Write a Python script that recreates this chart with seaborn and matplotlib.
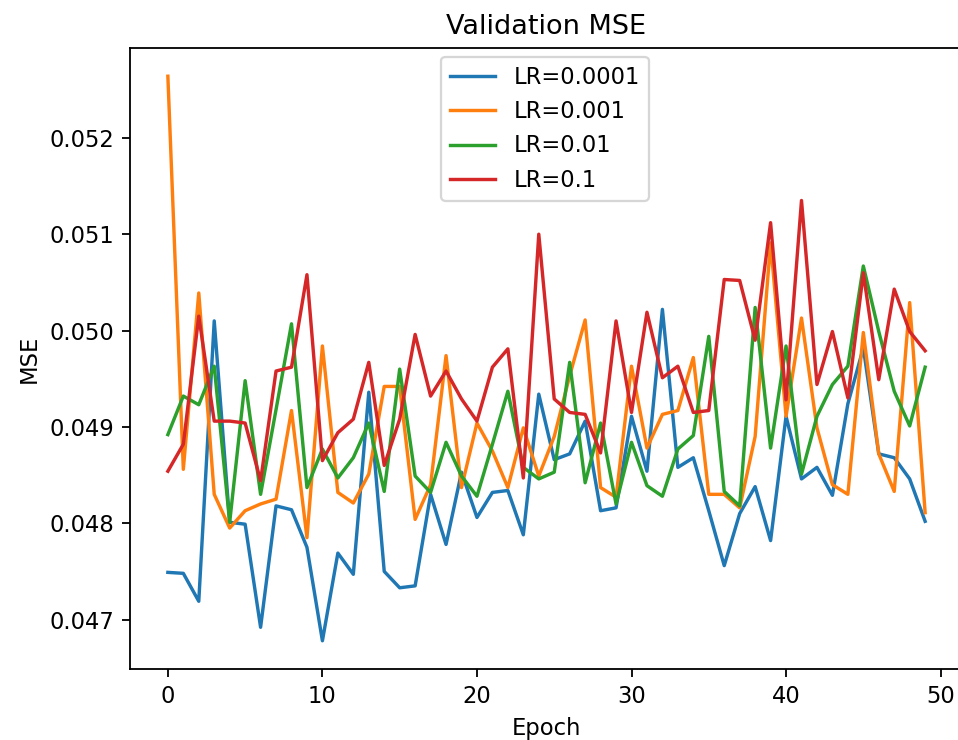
import pandas as pd
import seaborn as sns
import matplotlib.pyplot as plt
import numpy as np

epochs = list(range(50))

# validation MSE per epoch
mse_lr_0001 = [0.04749, 0.04748, 0.04719, 0.05010, 0.04801, 0.04799, 0.04692, 0.04818, 0.04814, 0.04775,
               0.04678, 0.04769, 0.04747, 0.04936, 0.04750, 0.04733, 0.04735, 0.04830, 0.04778, 0.04853,
               0.04806, 0.04832, 0.04834, 0.04788, 0.04934, 0.04866, 0.04872, 0.04906, 0.04813, 0.04816,
               0.04911, 0.04854, 0.05022, 0.04858, 0.04868, 0.04813, 0.04756, 0.04810, 0.04838, 0.04782,
               0.04911, 0.04846, 0.04858, 0.04829, 0.04924, 0.04982, 0.04872, 0.04868, 0.04846, 0.04802]
mse_lr_001 = [0.05264, 0.04856, 0.05039, 0.04830, 0.04795, 0.04813, 0.04820, 0.04825, 0.04917, 0.04785,
              0.04984, 0.04832, 0.04821, 0.04851, 0.04942, 0.04942, 0.04804, 0.04840, 0.04974, 0.04837,
              0.04904, 0.04875, 0.04837, 0.04899, 0.04849, 0.04890, 0.04953, 0.05011, 0.04837, 0.04827,
              0.04963, 0.04878, 0.04913, 0.04917, 0.04972, 0.04830, 0.04830, 0.04816, 0.04890, 0.05091,
              0.04911, 0.05013, 0.04899, 0.04840, 0.04830, 0.04998, 0.04872, 0.04833, 0.05029, 0.04811]
mse_lr_01 = [0.04892, 0.04932, 0.04923, 0.04963, 0.04801, 0.04948, 0.04830, 0.04918, 0.05007, 0.04837,
             0.04877, 0.04847, 0.04868, 0.04904, 0.04833, 0.04960, 0.04849, 0.04832, 0.04884, 0.04849,
             0.04828, 0.04882, 0.04937, 0.04858, 0.04846, 0.04853, 0.04967, 0.04842, 0.04904, 0.04820,
             0.04884, 0.04839, 0.04828, 0.04877, 0.04891, 0.04994, 0.04833, 0.04818, 0.05024, 0.04878,
             0.04984, 0.04851, 0.04911, 0.04944, 0.04963, 0.05067, 0.04999, 0.04937, 0.04901, 0.04962]
mse_lr_1 = [0.04854, 0.04882, 0.05015, 0.04906, 0.04906, 0.04904, 0.04844, 0.04958, 0.04962, 0.05058,
            0.04865, 0.04894, 0.04908, 0.04967, 0.04860, 0.04908, 0.04996, 0.04932, 0.04958, 0.04929,
            0.04906, 0.04962, 0.04981, 0.04847, 0.05100, 0.04929, 0.04915, 0.04913, 0.04873, 0.05010,
            0.04915, 0.05019, 0.04951, 0.04963, 0.04915, 0.04917, 0.05053, 0.05052, 0.04990, 0.05112,
            0.04928, 0.05135, 0.04944, 0.04999, 0.04930, 0.05060, 0.04949, 0.05043, 0.04999, 0.04979]

labels = ["LR=0.0001", "LR=0.001", "LR=0.01", "LR=0.1"]
series = [mse_lr_0001, mse_lr_001, mse_lr_01, mse_lr_1]

df = pd.DataFrame({
    "Epoch": epochs * 4,
    "MSE": np.concatenate(series),
    "lr": np.repeat(labels, len(epochs)),
})

dpi = 163
fig = plt.figure(figsize=(958 / dpi, 740 / dpi), dpi=dpi)
# the reference is cropped a little on the right, so the axes run past the edge
ax = fig.add_axes([130 / 958, 1 - 669 / 740, 833 / 958, 621 / 740])
sns.lineplot(data=df, x="Epoch", y="MSE", hue="lr", palette="tab10", ax=ax)
ax.set_title("Validation MSE")
ax.legend(loc="upper center", bbox_to_anchor=(545 / 958, 1 - 50 / 740),
          bbox_transform=fig.transFigure, borderaxespad=0.3)
plt.savefig("out.png")
